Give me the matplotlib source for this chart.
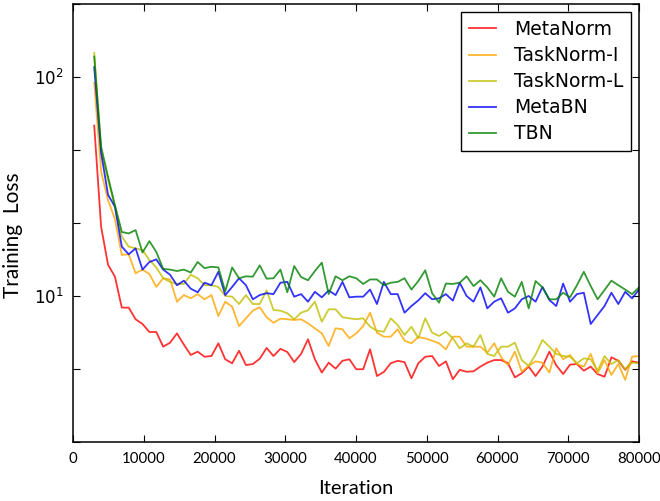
import numpy as np
import matplotlib
matplotlib.use("Agg")
import matplotlib.pyplot as plt
from matplotlib.ticker import FixedLocator, FuncFormatter

iterations = np.linspace(3000, 80000, 80)

metanorm = [60, 20.7, 13.9, 12.25, 8.85, 8.85, 7.83, 7.45, 6.85, 6.85,
            5.87, 6.12, 6.75, 6.0, 5.38, 5.57, 5.28, 5.32, 6.08, 5.14,
            4.93, 5.62, 4.84, 4.89, 5.17, 5.79, 5.32, 5.74, 5.55, 4.99,
            5.44, 6.34, 5.14, 4.47, 4.96, 4.66, 5.06, 5.14, 4.63, 4.63,
            5.71, 4.31, 4.50, 4.93, 5.06, 4.99, 4.21, 4.93, 5.28, 5.32,
            4.79, 5.03, 4.17, 4.60, 4.51, 4.53, 4.76, 4.96, 5.10, 5.10,
            4.93, 4.25, 4.44, 4.76, 4.31, 4.76, 5.57, 4.83, 4.40, 4.86,
            4.89, 4.56, 4.76, 4.40, 4.28, 5.25, 5.06, 4.60, 5.03, 4.96]

tasknorm_i = [94, 37, 27.4, 22.5, 15.4, 15.5, 12.7, 13.2, 12.6, 11.0,
              12.05, 11.9, 9.42, 10.1, 9.76, 10.2, 9.66, 10.1, 8.1, 9.42,
              8.94, 7.29, 7.91, 8.57, 8.88, 8.0, 7.55, 7.88, 7.83, 7.77,
              7.83, 7.5, 7.12, 6.75, 5.91, 7.12, 7.05, 6.41, 6.75, 7.29,
              8.39, 6.80, 6.52, 6.52, 7.05, 6.25, 6.08, 6.5, 6.4, 6.25,
              6.08, 5.71, 6.52, 6.52, 5.87, 5.87, 5.87, 5.51, 6.08, 5.25,
              4.84, 5.57, 4.51, 4.8, 5.03, 4.96, 4.47, 5.77, 5.14, 5.38,
              4.89, 4.76, 5.44, 4.44, 5.10, 4.36, 4.89, 4.14, 5.28, 5.32]

tasknorm_l = [129, 46, 34, 25.6, 18.7, 16.8, 16.5, 16.2, 14.6, 13.5,
              12.05, 11.6, 11.35, 11.35, 12.5, 12.05, 11.2, 11.2, 11.0, 10.0,
              9.93, 9.19, 10.1, 9.19, 9.19, 10.6, 8.63, 8.57, 8.34, 7.83,
              8.39, 8.6, 9.42, 7.63, 8.69, 8.69, 8.0, 7.91, 7.83, 7.91,
              7.24, 6.94, 6.87, 7.91, 7.37, 6.64, 7.24, 6.41, 7.91, 6.80,
              6.57, 6.87, 6.41, 5.77, 6.08, 5.87, 6.64, 5.44, 5.32, 5.87,
              5.87, 6.12, 5.10, 4.8, 5.4, 6.30, 5.87, 5.44, 5.32, 5.28,
              4.93, 5.19, 5.14, 4.56, 5.32, 4.89, 5.10, 4.63, 4.96, 4.93]

metabn = [111, 45, 29, 25.6, 16.8, 15.5, 16.5, 13.2, 14.3, 14.7,
          13.2, 12.5, 11.2, 11.75, 10.8, 10.4, 11.5, 11.2, 12.9, 10.1,
          11.0, 12.05, 11.2, 9.66, 10.1, 10.3, 10.2, 11.5, 11.6, 9.93,
          10.2, 9.42, 10.45, 9.86, 10.6, 10.1, 11.6, 9.86, 9.93, 9.93,
          10.7, 9.19, 11.6, 10.2, 10.2, 8.39, 9.0, 9.55, 10.3, 9.66,
          9.76, 10.2, 9.52, 11.5, 10.0, 9.42, 10.95, 8.78, 9.42, 9.76,
          8.39, 8.78, 9.66, 10.0, 9.42, 11.0, 9.59, 9.0, 11.4, 9.42,
          10.2, 10.35, 7.45, 8.19, 9.0, 10.35, 9.19, 10.45, 9.76, 10.7]

tbn = [124, 48, 35, 26, 19.6, 19.3, 20.0, 15.8, 17.8, 15.9,
       13.3, 13.2, 13.0, 13.2, 12.8, 14.3, 13.4, 13.6, 13.5, 10.5,
       13.5, 12.05, 12.3, 12.25, 13.8, 12.0, 12.05, 13.2, 10.4, 13.7,
       12.2, 11.8, 13.0, 14.2, 10.2, 12.3, 11.8, 12.3, 12.05, 11.35,
       11.9, 11.9, 11.2, 11.5, 11.6, 12.05, 10.7, 11.7, 13.1, 10.3,
       9.32, 11.4, 11.35, 11.5, 12.3, 11.1, 11.8, 10.95, 9.93, 12.05,
       10.45, 9.93, 11.6, 8.78, 11.7, 10.95, 9.66, 9.66, 10.35, 9.86,
       11.2, 12.9, 11.1, 9.66, 10.65, 11.75, 11.2, 10.7, 10.2, 10.95]

labels = ["MetaNorm", "TaskNorm-I", "TaskNorm-L", "MetaBN", "TBN"]
colors = ["#ff0000", "#ffa500", "#bfbf00", "#0000ff", "#008000"]
series = [metanorm, tasknorm_i, tasknorm_l, metabn, tbn]
xticks = [0, 10000, 20000, 30000, 40000, 50000, 60000, 70000, 80000]

label_font = "Lato"

fig = plt.figure(figsize=(6.6, 5.01), dpi=100)
ax = fig.add_axes([73 / 660, 1 - 442 / 501, (639 - 73) / 660, (442 - 4) / 501])

for y, lab, c in zip(series, labels, colors):
    ax.plot(iterations, y, color=c, lw=1.3, alpha=0.8, label=lab)

ax.set_yscale("log")
ax.set_ylim(10 ** (1 / 3), 10 ** (7 / 3))
ax.set_xlim(0, 80000)
ax.yaxis.set_major_locator(FixedLocator([10 ** (k / 3) for k in range(1, 8)]))
ax.yaxis.set_minor_locator(FixedLocator([]))


def yfmt(v, pos):
    e = np.log10(v)
    if abs(e - round(e)) < 1e-6:
        return r"$\mathregular{10^{%d}}$" % round(e)
    return ""


ax.yaxis.set_major_formatter(FuncFormatter(yfmt))
ax.set_xticks(xticks)
ax.set_xticklabels([str(t) for t in xticks], fontfamily=label_font, fontsize=10.8)
for t in ax.get_yticklabels():
    t.set_fontsize(12)

ax.tick_params(which="both", direction="in", top=True, right=True, length=5, width=0.8, pad=7)
for s in ax.spines.values():
    s.set_linewidth(1.1)

ax.set_xlabel("Iteration", fontfamily=label_font, fontsize=14.5, labelpad=10)
ax.set_ylabel("Training  Loss", fontfamily=label_font, fontsize=15)
ax.yaxis.set_label_coords(-0.088, 0.473)

leg = ax.legend(loc="upper right", fontsize=13.5, fancybox=False, framealpha=1,
                edgecolor="black", handlelength=1.45, handletextpad=0.95,
                borderpad=0.4, labelspacing=0.38, borderaxespad=0.45)
leg.get_frame().set_linewidth(1.0)

fig.savefig("out.png", dpi=100, facecolor="white")
